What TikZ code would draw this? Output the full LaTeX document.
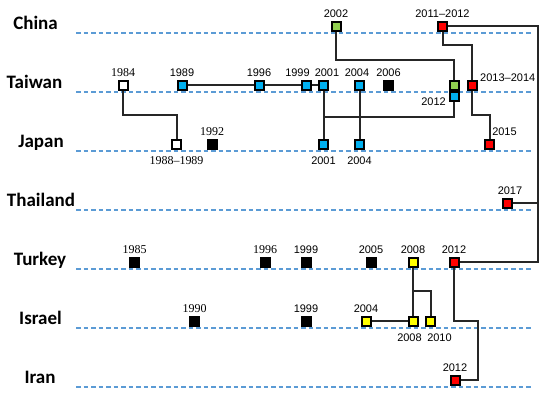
\documentclass[tikz,border=0pt]{standalone}
\usepackage{fontspec}
\setmainfont{Liberation Sans}
\newfontfamily\ctyfont{Carlito}
\newfontfamily\serfont{Liberation Serif}
\definecolor{gl}{RGB}{91,155,213}
\definecolor{cb}{RGB}{0,176,240}
\definecolor{cg}{RGB}{146,208,80}
\definecolor{cr}{RGB}{255,0,0}
\definecolor{cy}{RGB}{255,255,0}
\begin{document}
\begin{tikzpicture}[x=1pt,y=-1pt,
  sq/.style={draw=black,line width=2pt,minimum size=9pt,inner sep=0pt,fill=#1},
  sq/.default=white,
  cty/.style={font=\ctyfont\bfseries\fontsize{19}{19}\selectfont,anchor=base,inner sep=0pt},
  yl/.style={font=\fontsize{11}{11}\selectfont,inner sep=1pt},
  ys/.style={font=\serfont\fontsize{12}{12}\selectfont,inner sep=1pt},
  up/.style={label={[yl,label distance=2.5pt]above:#1}},
  dn/.style={label={[yl,label distance=5.5pt]below:#1}},
  sup/.style={label={[ys,label distance=2.5pt]above:#1}},
  sdn/.style={label={[ys,label distance=5.5pt]below:#1}},
  grid/.style={draw=gl,line width=1.2pt,dash pattern=on 4.5pt off 3pt},
  con/.style={draw=black!85,line width=2pt}]
\useasboundingbox (0,0) rectangle (550,395);
% dashed lines
\foreach \yy in {33,92,151,210,269,328,387}
  \draw[grid] (76,\yy) -- (532,\yy);
% country names
\node[cty] (lch) at (35.5,30) {China};
\node[cty] (lta) at (34.5,89) {Taiwan};
\node[cty] (lja) at (41,148) {Japan};
\node[cty] (lth) at (41,207) {Thailand};
\node[cty] (ltu) at (40,266) {Turkey};
\node[cty] (lis) at (40.5,325) {Israel};
\node[cty] (lir) at (40,384) {Iran};
% level coordinates
\coordinate (y45) at (0,45);
\coordinate (y60) at (0,60);
\coordinate (y115) at (0,115);
\coordinate (y117) at (0,116.7);
\coordinate (y291) at (0,291);
\coordinate (rail) at (537.5,0);
\coordinate (kn) at (478,321);
% China
\node[sq=cg,up=2002] (ch02) at (336,26.5) {};
\node[sq=cr,up=2011–2012] (ch11) at (442.5,26.5) {};
% Taiwan
\node[sq,sup=1984] (ta84) at (123,85.5) {};
\node[sq=cb,up=1989] (ta89) at (182,85.5) {};
\node[sq=cb,up=1996] (ta96) at (259,85.5) {};
\node[sq=cb,label={[yl,xshift=-8.5pt,label distance=2.5pt]above:1999}] (ta99) at (306,85.5) {};
\node[sq=cb,label={[yl,xshift=3.5pt,label distance=2.5pt]above:2001}] (ta01) at (323.5,85.5) {};
\node[sq=cb,label={[yl,xshift=-2.5pt,label distance=2.5pt]above:2004}] (ta04) at (359.5,85.5) {};
\node[sq=black,up=2006] (ta06) at (388.5,85.5) {};
\node[sq=cg] (tag12) at (454,85.5) {};
\node[sq=cb,label={[yl,yshift=-4.5pt,label distance=1.5pt]left:2012}] (tab12) at (454,97) {};
\node[sq=cr,label={[yl,yshift=7.5pt,label distance=1.5pt]right:2013–2014}] (ta13) at (472,85.5) {};
% Japan
\node[sq,sdn=1988–1989] (ja88) at (176.5,144.5) {};
\node[sq=black,sup=1992] (ja92) at (212,144.5) {};
\node[sq=cb,dn=2001] (ja01) at (323.5,144.5) {};
\node[sq=cb,dn=2004] (ja04) at (359.5,144.5) {};
\node[sq=cr,label={[yl,xshift=15pt,label distance=2.5pt]above:2015}] (ja15) at (489.5,144.5) {};
% Thailand
\node[sq=cr,label={[yl,xshift=2.5pt,label distance=2.5pt]above:2017}] (th17) at (507.5,203.5) {};
% Turkey
\node[sq=black,sup=1985] (tu85) at (134.5,262.5) {};
\node[sq=black,sup=1996] (tu96) at (265,262.5) {};
\node[sq=black,up=1999] (tu99) at (306,262.5) {};
\node[sq=black,up=2005] (tu05) at (371,262.5) {};
\node[sq=cy,up=2008] (tu08) at (413,262.5) {};
\node[sq=cr,up=2012] (tu12) at (454,262.5) {};
% Israel
\node[sq=black,sup=1990] (is90) at (194.5,321.5) {};
\node[sq=black,up=1999] (is99) at (306,321.5) {};
\node[sq=cy,up=2004] (is04) at (366,321.5) {};
\node[sq=cy,label={[yl,xshift=-3.5pt,label distance=5.5pt]below:2008}] (is08) at (413,321.5) {};
\node[sq=cy,label={[yl,xshift=9pt,label distance=5.5pt]below:2010}] (is10) at (430.5,321.5) {};
% Iran
\node[sq=cr,up=2012] (ir12) at (455,380.5) {};
% connectors
\draw[con] (ta84.south) |- (y115 -| ja88) -- (ja88.north);
\draw[con] (ta89.east) -- (ta96.west);
\draw[con] (ta96.east) -- (ta99.west);
\draw[con] (ta99.east) -- (ta01.west);
\draw[con] (ta01.south) -- (ja01.north);
\draw[con] (ta04.south) -- (ja04.north);
\draw[con] (y117 -| ta01) -| (tab12.south);
\draw[con] (ch02.south) |- (y60 -| tag12) -- (tag12.north);
\draw[con] (ch11.south) |- (y45 -| ta13) -- (ta13.north);
\draw[con] (ta13.south) |- (y115 -| ja15) -- (ja15.north);
\draw[con] (ch11.east) -- (ch11 -| rail) -- (tu12 -| rail) -- (tu12.east);
\draw[con] (th17.east) -- (th17 -| rail);
\draw[con] (tu08.south) -- (is08.north);
\draw[con] (y291 -| tu08) -| (is10.north);
\draw[con] (is04.east) -- (is08.west);
\draw[con] (tu12.south) |- (kn) |- (ir12.east);
\end{tikzpicture}
\end{document}
